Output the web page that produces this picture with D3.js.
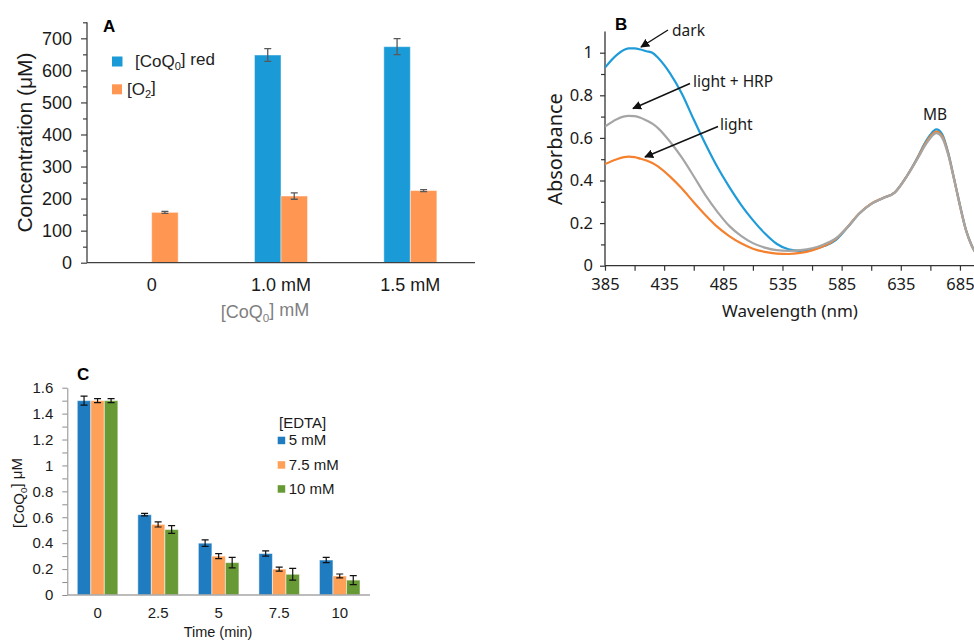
<!DOCTYPE html>
<html>
<head>
<meta charset="utf-8">
<script src="https://cdn.jsdelivr.net/npm/d3@7"></script>
<style>
  body { margin: 0; background: #fff; }
  svg { display: block; }
  .arial { font-family: "Liberation Sans", Arial, sans-serif; }
  .aptos { font-family: "Noto Sans", "Open Sans", sans-serif; }
</style>
</head>
<body>
<script>
// ---- panel A data ----
const aCategories = ["0", "1.0 mM", "1.5 mM"];
const aSeries = ["coq", "o2"];
const aCoq = [0, 648, 674];
const aCoqErr = [0, 20, 25];
const aO2 = [157, 208, 225];
const aO2Err = [3, 10, 3];
const aTicks = [0, 100, 200, 300, 400, 500, 600, 700];

// ---- panel B data (absorbance spectra) ----
const wavelengths = [385, 395, 405, 410, 415, 420, 425, 430, 440, 450, 460, 470, 480, 490, 500, 510, 520, 530, 540, 550,
  560, 570, 580, 590, 600, 610, 620, 630, 640, 650, 655, 660, 665, 670, 675, 680, 685, 690, 695, 700];
const darkAbs = [0.93, 0.99, 1.02, 1.02, 1.015, 1.007, 1.0, 0.975, 0.903, 0.807, 0.686, 0.57, 0.463, 0.37, 0.286, 0.214, 0.152, 0.103, 0.077, 0.07,
  0.075, 0.092, 0.12, 0.18, 0.245, 0.29, 0.318, 0.345, 0.42, 0.517, 0.572, 0.615, 0.64, 0.617, 0.532, 0.41, 0.285, 0.17, 0.095, 0.045];
const lightHrpAbs = [0.653, 0.688, 0.703, 0.702, 0.695, 0.682, 0.667, 0.645, 0.582, 0.507, 0.42, 0.33, 0.253, 0.187, 0.14, 0.106, 0.085, 0.073, 0.07, 0.073,
  0.082, 0.1, 0.128, 0.182, 0.245, 0.29, 0.317, 0.343, 0.418, 0.51, 0.56, 0.6, 0.622, 0.6, 0.522, 0.405, 0.28, 0.168, 0.092, 0.045];
const lightAbs = [0.477, 0.5, 0.512, 0.51, 0.502, 0.494, 0.482, 0.465, 0.418, 0.362, 0.298, 0.237, 0.182, 0.139, 0.105, 0.08, 0.065, 0.057, 0.055, 0.06,
  0.072, 0.092, 0.125, 0.182, 0.246, 0.291, 0.318, 0.344, 0.42, 0.514, 0.566, 0.607, 0.63, 0.608, 0.527, 0.408, 0.282, 0.168, 0.093, 0.045];
const bXTicks = [385, 435, 485, 535, 585, 635, 685];
const bYTicks = [0, 0.2, 0.4, 0.6, 0.8, 1];

// ---- panel C data ----
const cTimes = ["0", "2.5", "5", "7.5", "10"];
const cSeries = ["5 mM", "7.5 mM", "10 mM"];
const c5mM = [1.50, 0.62, 0.40, 0.32, 0.27];
const c5mMErr = [0.035, 0.01, 0.025, 0.02, 0.02];
const c75mM = [1.50, 0.545, 0.30, 0.20, 0.147];
const c75mMErr = [0.015, 0.02, 0.02, 0.015, 0.015];
const c10mM = [1.50, 0.505, 0.25, 0.16, 0.115];
const c10mMErr = [0.015, 0.03, 0.04, 0.045, 0.035];
const cTicks = [0, 0.2, 0.4, 0.6, 0.8, 1, 1.2, 1.4, 1.6];

let svg = d3.select("body").append("svg")
  .attr("width", 974)
  .attr("height", 641);

drawPanelA();
drawPanelB();
drawPanelC();

function subText(sel, parts) {
  // parts: [text, isSub]
  parts.forEach((p) => {
    let t = sel.append("tspan").text(p[0]);
    if (p[1]) t.attr("font-size", "0.65em").attr("dy", "0.3em");
    else if (p[2]) t.attr("dy", "-0.3em");
  });
}

function drawPanelA() {
  let g = svg.append("g").attr("class", "arial");
  let x = d3.scaleBand().domain(aCategories).range([87, 475]).paddingInner(0.59).paddingOuter(0.295);
  let xs = d3.scaleBand().domain(aSeries).range([0, x.bandwidth()]);
  let y = d3.scaleLinear().domain([0, 750]).range([262.7, 22.3]);
  let colors = { coq: "#1a9bd7", o2: "#ff9652" };

  // y axis with minor ticks
  g.append("g").attr("transform", "translate(87,0)")
    .call(d3.axisLeft(y).tickValues(d3.range(50, 751, 100)).tickSize(4).tickFormat(""))
    .call((a) => a.select(".domain").remove())
    .selectAll("line").attr("stroke", "#404040").attr("stroke-width", 1.2);
  let ya = g.append("g").attr("transform", "translate(87,0)")
    .call(d3.axisLeft(y).tickValues(aTicks).tickSize(6).tickPadding(9).tickSizeOuter(0));
  ya.select(".domain").attr("d", "M0," + y(750) + "V" + y(0)).attr("stroke", "#404040").attr("stroke-width", 1.3);
  ya.selectAll("line").attr("stroke", "#404040").attr("stroke-width", 1.2);
  ya.selectAll("text").attr("font-size", 18).attr("fill", "#1a1a1a").attr("font-family", "Liberation Sans, Arial");

  let rows = aCategories.map((c, i) => ({
    cat: c,
    bars: [{ s: "coq", v: aCoq[i], e: aCoqErr[i] }, { s: "o2", v: aO2[i], e: aO2Err[i] }]
  }));
  let groups = g.selectAll(".grp").data(rows).enter().append("g")
    .attr("transform", (d) => "translate(" + x(d.cat) + ",0)");
  let bars = groups.selectAll("g").data((d) => d.bars.filter((b) => b.v > 0)).enter().append("g");
  bars.append("rect")
    .attr("x", (d) => xs(d.s))
    .attr("y", (d) => y(d.v))
    .attr("width", xs.bandwidth())
    .attr("height", (d) => y(0) - y(d.v))
    .attr("fill", (d) => colors[d.s])
    .attr("stroke", "rgba(255,255,255,0.45)")
    .attr("stroke-width", 1);
  let cx = (d) => xs(d.s) + xs.bandwidth() / 2;
  bars.append("path")
    .attr("d", (d) => "M" + (cx(d) - 3.5) + "," + y(d.v + d.e) + "h7M" + cx(d) + "," + y(d.v + d.e) + "V" + y(d.v - d.e) +
      "M" + (cx(d) - 3.5) + "," + y(d.v - d.e) + "h7")
    .attr("stroke", "#595959").attr("stroke-width", 1.3).attr("fill", "none");

  // x axis
  let xa = g.append("g").attr("transform", "translate(0,262.7)")
    .call(d3.axisBottom(x).tickSize(0).tickPadding(16));
  xa.select(".domain").attr("d", "M87,0H475").attr("stroke", "#404040").attr("stroke-width", 1.3);
  xa.selectAll("text").attr("font-size", 18).attr("fill", "#1a1a1a").attr("font-family", "Liberation Sans, Arial");

  g.append("text").attr("x", 103).attr("y", 32).attr("font-size", 17).attr("font-weight", "bold").text("A");

  // legend
  g.append("rect").attr("x", 112).attr("y", 56.5).attr("width", 10.5).attr("height", 10).attr("fill", colors.coq);
  subText(g.append("text").attr("x", 135).attr("y", 67).attr("font-size", 17).attr("fill", "#222"),
    [["[CoQ"], ["0", true], ["] red", false, true]]);
  g.append("rect").attr("x", 112).attr("y", 84.3).attr("width", 10).attr("height", 10).attr("fill", colors.o2);
  subText(g.append("text").attr("x", 127).attr("y", 95).attr("font-size", 17).attr("fill", "#222"),
    [["[O"], ["2", true], ["]", false, true]]);

  subText(g.append("text").attr("x", 265).attr("y", 318).attr("text-anchor", "middle").attr("font-size", 18).attr("fill", "#7f7f7f"),
    [["[CoQ"], ["0", true], ["] mM", false, true]]);
  g.append("text").attr("transform", "translate(32,142.5) rotate(-90)").attr("text-anchor", "middle")
    .attr("font-size", 21).attr("fill", "#1a1a1a").text("Concentration (μM)");
}

function drawPanelB() {
  let g = svg.append("g").attr("class", "aptos");
  let x = d3.scaleLinear().domain([385, 700]).range([605, 977.7]);
  let y = d3.scaleLinear().domain([0, 1.1]).range([265.7, 31.4]);
  let axisColor = "#333";

  svg.append("defs").append("clipPath").attr("id", "clipB")
    .append("rect").attr("x", 605).attr("y", 20).attr("width", 369).attr("height", 246);
  let marker = svg.select("defs").append("marker").attr("id", "arrowB")
    .attr("viewBox", "0 0 10 10").attr("refX", 9).attr("refY", 5)
    .attr("markerWidth", 9).attr("markerHeight", 9).attr("markerUnits", "userSpaceOnUse").attr("orient", "auto");
  marker.append("path").attr("d", "M0,0L10,5L0,10Z").attr("fill", "#111");

  // minor ticks
  g.append("g").attr("transform", "translate(605,0)")
    .call(d3.axisLeft(y).tickValues(d3.range(1, 11, 2).map((v) => v / 10)).tickSize(4).tickFormat(""))
    .call((a) => a.select(".domain").remove())
    .selectAll("line").attr("stroke", axisColor).attr("stroke-width", 1.2);
  let ya = g.append("g").attr("transform", "translate(605,0)")
    .call(d3.axisLeft(y).tickValues(bYTicks).tickSize(5).tickPadding(7).tickSizeOuter(0).tickFormat(d3.format("~g")));
  ya.select(".domain").attr("d", "M0," + y(1.1) + "V" + y(0)).attr("stroke", axisColor).attr("stroke-width", 1.3);
  ya.selectAll("line").attr("stroke", axisColor).attr("stroke-width", 1.2);
  ya.selectAll("text").attr("font-size", 16.5).attr("fill", "#1a1a1a").attr("font-family", "Noto Sans, sans-serif");

  g.append("g").attr("transform", "translate(0,265.7)")
    .call(d3.axisBottom(x).tickValues(d3.range(410, 700, 50)).tickSize(5).tickFormat(""))
    .call((a) => a.select(".domain").remove())
    .selectAll("line").attr("stroke", axisColor).attr("stroke-width", 1.2);
  let xa = g.append("g").attr("transform", "translate(0,265.7)")
    .call(d3.axisBottom(x).tickValues(bXTicks).tickSize(5).tickPadding(8).tickSizeOuter(0));
  xa.select(".domain").attr("d", "M605,0H974").attr("stroke", axisColor).attr("stroke-width", 1.3);
  xa.selectAll("line").attr("stroke", axisColor).attr("stroke-width", 1.2);
  xa.selectAll("text").attr("font-size", 16.5).attr("fill", "#1a1a1a").attr("font-family", "Noto Sans, sans-serif");

  let series = [
    { name: "light + HRP", vals: lightHrpAbs, color: "#a5a5a5" },
    { name: "light", vals: lightAbs, color: "#f5812f" },
    { name: "dark", vals: darkAbs, color: "#1e9bd8" }
  ];
  let line = d3.line()
    .x((d, i) => x(wavelengths[i]))
    .y((d) => y(d))
    .curve(d3.curveMonotoneX);
  g.append("g").attr("clip-path", "url(#clipB)")
    .selectAll("path").data([series[2], series[1], series[0]]).enter().append("path")
    .attr("d", (d) => line(d.vals))
    .attr("fill", "none")
    .attr("stroke", (d) => d.color)
    .attr("stroke-width", 2.2);

  // annotations
  let notes = [
    { t: "dark", tx: 672, ty: 36, x1: 668, y1: 30, x2: 641, y2: 47 },
    { t: "light + HRP", tx: 693, ty: 87, x1: 690, y1: 83.5, x2: 633, y2: 108.5 },
    { t: "light", tx: 720, ty: 130, x1: 718, y1: 126.5, x2: 645, y2: 157 }
  ];
  g.selectAll(".note").data(notes).enter().append("line")
    .attr("x1", (d) => d.x1).attr("y1", (d) => d.y1)
    .attr("x2", (d) => d.x2).attr("y2", (d) => d.y2)
    .attr("stroke", "#111").attr("stroke-width", 1.4)
    .attr("marker-end", "url(#arrowB)");
  g.selectAll(".notetext").data(notes).enter().append("text")
    .attr("x", (d) => d.tx).attr("y", (d) => d.ty)
    .attr("font-size", 15.5).attr("fill", "#1a1a1a").text((d) => d.t);
  g.append("text").attr("x", 935).attr("y", 120).attr("text-anchor", "middle")
    .attr("font-size", 15.5).attr("fill", "#1a1a1a").text("MB");

  g.append("text").attr("x", 615).attr("y", 30).attr("font-size", 17).attr("font-weight", "bold")
    .attr("font-family", "Liberation Sans, Arial").text("B");
  g.append("text").attr("x", 790).attr("y", 317).attr("text-anchor", "middle")
    .attr("font-size", 17).attr("fill", "#1a1a1a").text("Wavelength (nm)");
  g.append("text").attr("transform", "translate(562,149) rotate(-90)").attr("text-anchor", "middle")
    .attr("font-size", 20).attr("fill", "#1a1a1a").text("Absorbance");
}

function drawPanelC() {
  let g = svg.append("g").attr("class", "arial");
  let x = d3.scaleBand().domain(cTimes).range([67.3, 370]).paddingInner(0.33).paddingOuter(0.165);
  let xs = d3.scaleBand().domain(cSeries).range([0, x.bandwidth()]);
  let y = d3.scaleLinear().domain([0, 1.6]).range([595, 387.7]);
  let colors = { "5 mM": "#1f7cc0", "7.5 mM": "#ffa057", "10 mM": "#679a34" };

  g.append("g").attr("transform", "translate(67.3,0)")
    .call(d3.axisLeft(y).tickValues(d3.range(1, 16, 2).map((v) => v / 10)).tickSize(5).tickFormat(""))
    .call((a) => a.select(".domain").remove())
    .selectAll("line").attr("stroke", "#8c8c8c");
  let ya = g.append("g").attr("transform", "translate(67.3,0)")
    .call(d3.axisLeft(y).tickValues(cTicks).tickSize(5).tickPadding(9).tickSizeOuter(0).tickFormat(d3.format("~g")));
  ya.select(".domain").attr("stroke", "#8c8c8c");
  ya.selectAll("line").attr("stroke", "#8c8c8c");
  ya.selectAll("text").attr("font-size", 15).attr("fill", "#1a1a1a").attr("font-family", "Liberation Sans, Arial");

  let rows = cTimes.map((t, i) => ({
    t: t,
    bars: [
      { s: "5 mM", v: c5mM[i], e: c5mMErr[i] },
      { s: "7.5 mM", v: c75mM[i], e: c75mMErr[i] },
      { s: "10 mM", v: c10mM[i], e: c10mMErr[i] }
    ]
  }));
  let groups = g.selectAll(".grp").data(rows).enter().append("g")
    .attr("transform", (d) => "translate(" + x(d.t) + ",0)");
  let bars = groups.selectAll("g").data((d) => d.bars).enter().append("g");
  bars.append("rect")
    .attr("x", (d) => xs(d.s))
    .attr("y", (d) => y(d.v))
    .attr("width", xs.bandwidth())
    .attr("height", (d) => y(0) - y(d.v))
    .attr("fill", (d) => colors[d.s])
    .attr("stroke", "rgba(255,255,255,0.5)")
    .attr("stroke-width", 1);
  let cx = (d) => xs(d.s) + xs.bandwidth() / 2;
  bars.append("path")
    .attr("d", (d) => "M" + (cx(d) - 3.5) + "," + y(d.v + d.e) + "h7M" + cx(d) + "," + y(d.v + d.e) + "V" + y(d.v - d.e) +
      "M" + (cx(d) - 3.5) + "," + y(d.v - d.e) + "h7")
    .attr("stroke", "#111").attr("stroke-width", 1.2).attr("fill", "none");

  let xa = g.append("g").attr("transform", "translate(0,595)")
    .call(d3.axisBottom(x).tickSize(0).tickPadding(12));
  xa.select(".domain").attr("d", "M67.3,0H370").attr("stroke", "#a6a6a6").attr("stroke-width", 1.3);
  xa.selectAll("text").attr("font-size", 15).attr("fill", "#1a1a1a").attr("font-family", "Liberation Sans, Arial");

  g.append("text").attr("x", 77).attr("y", 380).attr("font-size", 17).attr("font-weight", "bold").text("C");
  g.append("text").attr("x", 218).attr("y", 637).attr("text-anchor", "middle").attr("font-size", 14.5)
    .attr("fill", "#1a1a1a").text("Time (min)");
  subText(g.append("text").attr("transform", "translate(24,493) rotate(-90)").attr("text-anchor", "middle")
    .attr("font-size", 15).attr("fill", "#1a1a1a"), [["[CoQ"], ["0", true], ["] μM", false, true]]);

  // legend
  g.append("text").attr("x", 279).attr("y", 428).attr("font-size", 15).attr("fill", "#1a1a1a").text("[EDTA]");
  let leg = g.selectAll(".leg").data(cSeries).enter().append("g")
    .attr("transform", (d, i) => "translate(277.7," + [436.7, 461.2, 485.2][i] + ")");
  leg.append("rect").attr("width", 7.5).attr("height", 7.5).attr("fill", (d) => colors[d]);
  leg.append("text").attr("x", 11).attr("y", 8.5).attr("font-size", 15).attr("fill", "#1a1a1a").text((d) => d);
}
</script>
</body>
</html>
